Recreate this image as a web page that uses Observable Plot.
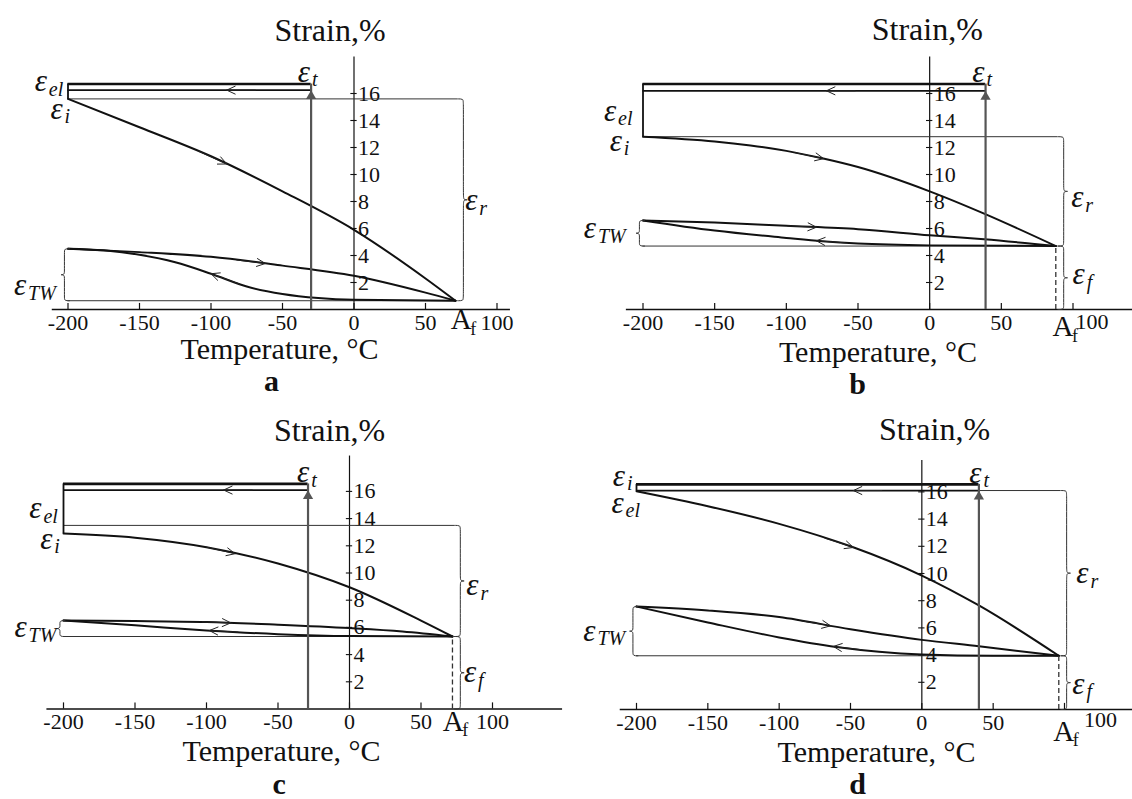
<!DOCTYPE html>
<html><head><meta charset="utf-8">
<script src="https://cdn.jsdelivr.net/npm/d3@7"></script>
<script src="https://cdn.jsdelivr.net/npm/@observablehq/plot@0.6"></script>
<style>
body{margin:0;background:#fff;}
#wrap{position:relative;width:1132px;height:799px;overflow:hidden;background:#fff;}
.panel{position:absolute;}
svg.panel text, svg.panel tspan{font-family:"Liberation Serif","Times New Roman","DejaVu Serif",Times,serif !important;}
</style></head><body><div id="wrap"></div>
<script>
// ---------- data ----------
const xTicks = [-200, -150, -100, -50, 0, 50, 100];
const yTicks = [2, 4, 6, 8, 10, 12, 14, 16];
const panelNames = ["a", "b", "c", "d"];

// temperature of the loading line (ε_t) and of A_f
const etTemp = [-30, 39, -29, 40];
const afTemp = [71, 88, 72, 96];
const afStrain = [0.65, 4.7, 5.33, 3.95];
// strain levels of the double line at the top, and of the ε_r bracket top
const topStrain1 = [16.7, 16.7, 16.55, 16.55];
const topStrain2 = [16.25, 16.2, 16.1, 16.1];
const erTop = [15.6, 12.8, 13.5, 16.1];

// shape-memory recovery on heating (ε_i -> A_f)
const recoveryA = [[-200,15.6],[-150,13.5],[-100,11.35],[-50,8.75],[0,5.9],[50,2.3],[71,0.65]];
const recoveryB = [[-200,12.8],[-150,12.45],[-125,12.15],[-100,11.75],[-75,11.2],[-50,10.55],[0,8.75],[38,7.1],[88,4.7]];
const recoveryC = [[-200,12.9],[-150,12.6],[-100,11.9],[-50,10.7],[0,8.95],[50,6.5],[72,5.33]];
const recoveryD = [[-200,16.05],[-150,14.95],[-100,13.65],[-50,12.0],[0,9.85],[40,7.65],[96,3.95]];
// two-way effect: heating branch
const heatingA = [[-200,4.5],[-150,4.25],[-100,3.9],[-50,3.25],[0,2.5],[50,1.25],[71,0.65]];
const heatingB = [[-200,6.6],[-150,6.45],[-100,6.2],[-50,5.95],[0,5.5],[38,5.2],[88,4.7]];
const heatingC = [[-200,6.5],[-150,6.47],[-100,6.4],[-50,6.2],[0,5.95],[37,5.7],[72,5.33]];
const heatingD = [[-200,7.57],[-150,7.28],[-100,6.8],[-50,5.9],[0,5.12],[40,4.65],[96,3.95]];
// two-way effect: cooling branch
const coolingA = [[-200,4.5],[-175,4.38],[-150,4.05],[-125,3.5],[-100,2.65],[-75,1.7],[-50,1.15],[-25,0.85],[0,0.72],[71,0.65]];
const coolingB = [[-200,6.6],[-150,5.85],[-100,5.3],[-75,5.05],[-50,4.88],[0,4.75],[88,4.7]];
const coolingC = [[-200,6.5],[-150,6.15],[-100,5.78],[-50,5.5],[0,5.36],[72,5.33]];
const coolingD = [[-200,7.57],[-150,6.4],[-100,5.3],[-60,4.6],[-30,4.25],[0,4.05],[50,3.95],[96,3.95]];

// direction-arrow positions (temperature)
const arrowRecovery = [-89, -74, -80, -48];
const arrowHeating = [-62, -79, -83, -64];
const arrowCooling = [-100, -79, -98, -62];
const arrowTop = [-89, -72, -88, -48];

// symbol labels (x in °C, y in %)
const labelsA = [
  {sub: "el", x: -219, y: 16.9}, {sub: "i", x: -208, y: 14.85}, {sub: "t", x: -35, y: 17.6},
  {sub: "TW", x: -233.5, y: 1.8}, {sub: "r", x: 82, y: 8.1}
];
const labelsB = [
  {sub: "el", x: -223, y: 14.7}, {sub: "i", x: -219, y: 12.5}, {sub: "t", x: 34, y: 17.6},
  {sub: "TW", x: -237, y: 6.0}, {sub: "r", x: 103, y: 8.3}, {sub: "f", x: 104, y: 2.6}
];
const labelsC = [
  {sub: "el", x: -219.6, y: 14.75}, {sub: "i", x: -212, y: 12.5}, {sub: "t", x: -32.4, y: 17.4},
  {sub: "TW", x: -230, y: 6.0}, {sub: "r", x: 86, y: 9.1}, {sub: "f", x: 84.3, y: 2.7}
];
const labelsD = [
  {sub: "i", x: -212.3, y: 17.2}, {sub: "el", x: -213.3, y: 15.2}, {sub: "t", x: 37.6, y: 17.4},
  {sub: "TW", x: -233, y: 5.8}, {sub: "r", x: 112.6, y: 10.0}, {sub: "f", x: 109.8, y: 1.9}
];
const afLabelT = [75, 93, 72.5, 99.5];

// ---------- layout (styles / positions) ----------
const layout = [
  {left: 0,   top: 0,   h: 400, xr: [67.5, 496.5], yr: [309, 93],    axis: [-211, 109.4], yTop: 18.7,
   strainDx: -24, strainDy: -278.6, tempDx: -74.5, tempDy: 39.4, letDx: -82.5, letDy: 72, afDy: 10.5, hDx: 0, hDy: 0},
  {left: 566, top: 0,   h: 400, xr: [76.5, 506.5], yr: [309, 93],    axis: [-211.6, 142], yTop: 18.7,
   strainDx: -2.4, strainDy: -279.6, tempDx: -51.7, tempDy: 43, letDx: -72, letDy: 75, afDy: 17.5, hDx: 19, hDy: -1},
  {left: 0,   top: 400, h: 399, xr: [63, 492],     yr: [308.5, 90.9], axis: [-211.6, 149], yTop: 18.6,
   strainDx: -20, strainDy: -278.1, tempDx: -68, tempDy: 42, letDx: -70.4, letDy: 75.5, afDy: 12.5, hDx: 0, hDy: 0},
  {left: 566, top: 400, h: 399, xr: [70, 498],     yr: [309, 91.4],  axis: [-211.4, 148], yTop: 18.3,
   strainDx: 12.7, strainDy: -279.3, tempDx: -45.3, tempDy: 43, letDx: -64.3, letDy: 75, afDy: 22, hDx: 36, hDy: -3}
];

const recoveries = [recoveryA, recoveryB, recoveryC, recoveryD];
const heatings = [heatingA, heatingB, heatingC, heatingD];
const coolings = [coolingA, coolingB, coolingC, coolingD];
const labelSets = [labelsA, labelsB, labelsC, labelsD];

const FONT = "Liberation Serif, DejaVu Serif, serif";
const INK = "#111";
const THIN = "#333";

function interp(series, t) {
  const s = [...series].sort((p, q) => p[0] - q[0]);
  for (let k = 0; k < s.length - 1; k++) {
    if (t >= s[k][0] && t <= s[k + 1][0]) {
      const f = (t - s[k][0]) / (s[k + 1][0] - s[k][0]);
      return s[k][1] + f * (s[k + 1][1] - s[k][1]);
    }
  }
  return s[s.length - 1][1];
}
function arrowOn(series, t, dir, span = 20) {
  const t0 = t - dir * span;
  return {x1: t0, y1: interp(series, t0), x2: t, y2: interp(series, t)};
}
// curly brace path between two strain levels (dir +1 = opens to the right "}")
function brace(x0, yA, yB, dir, w = 8, r = 0.25) {
  const mid = (yA + yB) / 2, hi = Math.max(yA, yB), lo = Math.min(yA, yB);
  const xm = x0 + dir * w * 0.5, xt = x0 + dir * w;
  return [[x0, hi], [xm, hi], [xm, hi - r], [xm, mid + r], [xm, mid], [xt, mid],
          [xm, mid], [xm, mid - r], [xm, lo + r], [xm, lo], [x0, lo]].map(([x, y]) => ({x, y}));
}
const sorted = (s) => [...s].sort((p, q) => p[0] - q[0]);
const T = (o) => Object.assign({fontFamily: FONT, fill: INK, stroke: "none"}, o);

function makePanel(i) {
  const L = layout[i];
  const rec = recoveries[i], heat = heatings[i], cool = coolings[i];
  const et = etTemp[i], af = afTemp[i], afS = afStrain[i];
  const t1 = topStrain1[i], t2 = topStrain2[i], er = erTop[i];
  const labels = labelSets[i];
  const curveOpts = {x: d => d[0], y: d => d[1], curve: "monotone-x", stroke: INK, strokeWidth: 2};
  const arrows = [
    arrowOn(rec, arrowRecovery[i], 1),
    arrowOn(heat, arrowHeating[i], 1),
    arrowOn(cool, arrowCooling[i], -1),
    {x1: arrowTop[i] + 20, y1: t2, x2: arrowTop[i], y2: t2}
  ];
  const marks = [
    Plot.ruleY([0], {x1: L.axis[0], x2: L.axis[1], stroke: INK, strokeWidth: 1.3}),
    Plot.ruleX([0], {y1: 0, y2: L.yTop, stroke: INK, strokeWidth: 1.2}),
    Plot.ruleX(xTicks, {x: d => d, y1: 0, y2: 0.45, stroke: INK, strokeWidth: 1.2}),
    Plot.ruleY(yTicks, {y: d => d, x1: -2.2, x2: 2.2, stroke: INK, strokeWidth: 1.1}),
    Plot.text(xTicks.filter(d => d !== 100), T({x: d => d, y: 0, dy: 13, text: d => String(d), fontSize: 22})),
    Plot.text([100], T({x: d => d, y: 0, dx: L.hDx, dy: 13 + L.hDy, text: d => String(d), fontSize: 22})),
    Plot.text(yTicks, T({x: 0, y: d => d, dx: 4, textAnchor: "start", text: d => String(d), fontSize: 22})),
    Plot.text(["Strain,%"], T({x: 0, y: 0, dx: L.strainDx, dy: L.strainDy, text: d => d, fontSize: 32})),
    Plot.text(["Temperature, °C"], T({x: 0, y: 0, dx: L.tempDx, dy: L.tempDy, text: d => d, fontSize: 30})),
    Plot.text([panelNames[i]], T({x: 0, y: 0, dx: L.letDx, dy: L.letDy, text: d => d, fontSize: 30, fontWeight: "bold"})),
    Plot.ruleY([er], {y: d => d, x1: -200, x2: af + 1.5, stroke: THIN, strokeWidth: 1}),
    Plot.ruleY([afS], {y: d => d, x1: -200, x2: af, stroke: THIN, strokeWidth: 1}),
    Plot.ruleY([t1], {y: d => d, x1: -200, x2: et, stroke: INK, strokeWidth: 2.6}),
    Plot.ruleY([t2], {y: d => d, x1: -200, x2: et, stroke: INK, strokeWidth: 1.8}),
    Plot.ruleX([-200], {x: d => d, y1: rec[0][1], y2: t1, stroke: INK, strokeWidth: 1.8}),
    Plot.line(sorted(rec), curveOpts),
    Plot.line(sorted(heat), curveOpts),
    Plot.line(sorted(cool), curveOpts),
    Plot.ruleX([et], {x: d => d, y1: 0, y2: t1, stroke: "#555", strokeWidth: 2.2}),
    Plot.dot([et], {x: d => d, y: t2, dy: 6, symbol: "triangle", r: 3.8, fill: "#555", stroke: "none"}),
    Plot.arrow(arrows, {x1: "x1", y1: "y1", x2: "x2", y2: "y2", stroke: "#222", strokeWidth: 1, headLength: 14, headAngle: 50}),
    Plot.line(brace(af + 1.5, er, afS, 1), {x: "x", y: "y", curve: "basis", stroke: THIN, strokeWidth: 1}),
    Plot.line(brace(-199, heat[0][1], afS, -1, 7), {x: "x", y: "y", curve: "basis", stroke: THIN, strokeWidth: 1}),
    Plot.text(labels, T({x: "x", y: "y", text: () => "ε", fontSize: 31, fontStyle: "italic"})),
    Plot.text(labels, T({x: "x", y: "y", text: "sub", dx: 8, dy: 8, textAnchor: "start", fontSize: 20, fontStyle: "italic"})),
    Plot.text([afLabelT[i]], T({x: d => d, y: 0, dy: L.afDy, text: () => "A", fontSize: 29})),
    Plot.text([afLabelT[i]], T({x: d => d, y: 0, dx: 9, dy: L.afDy + 9, textAnchor: "start", text: () => "f", fontSize: 18}))
  ];
  if (i > 0) {
    marks.push(Plot.ruleX([af], {x: d => d, y1: 0, y2: afS, stroke: THIN, strokeWidth: 1.3, strokeDasharray: "5,3"}));
    marks.push(Plot.line(brace(af + 1.5, afS, 0, 1), {x: "x", y: "y", curve: "basis", stroke: THIN, strokeWidth: 1}));
  }
  const svg = Plot.plot({
    width: 566, height: L.h,
    margin: 0,
    x: {domain: [-200, 100], range: L.xr, axis: null},
    y: {domain: [0, 16], range: L.yr, axis: null},
    style: {background: "transparent", overflow: "visible"},
    marks
  });
  svg.setAttribute("font-family", FONT);
  svg.classList.add("panel");
  svg.style.left = L.left + "px";
  svg.style.top = L.top + "px";
  svg.style.position = "absolute";
  return svg;
}

const wrap = document.getElementById("wrap");
for (let i = 0; i < 4; i++) wrap.appendChild(makePanel(i));
</script></body></html>
